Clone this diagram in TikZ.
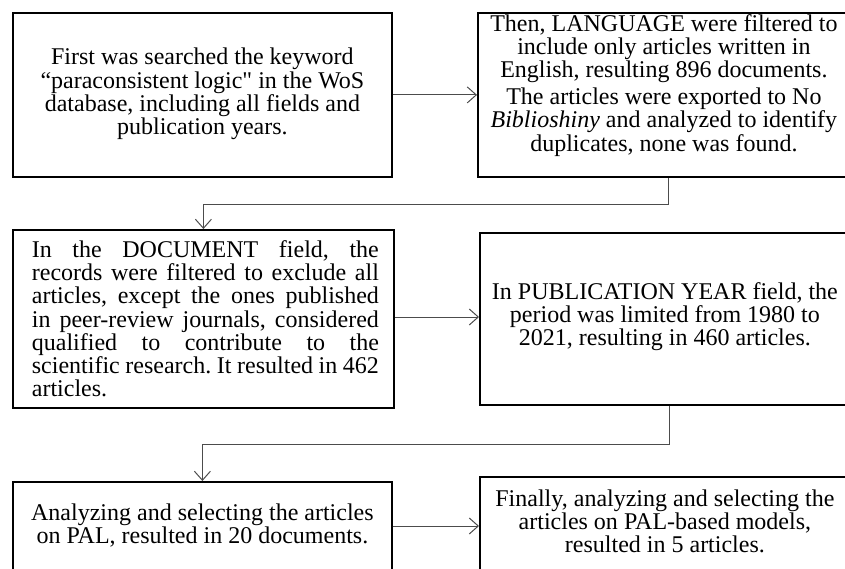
\documentclass[tikz,border=0pt]{standalone}
\usepackage{fontspec}
\setmainfont{Liberation Serif}[Ligatures=TeXOff]
\usetikzlibrary{arrows.meta, positioning}
\frenchspacing

\begin{document}
\begin{tikzpicture}[x=1pt, y=1pt,
  every node/.style={font=\fontsize{24}{23.2}\selectfont, inner sep=0pt},
  stage/.style={draw=black, line width=1.8pt, anchor=north west},
  flow/.style={draw=black!70, line width=1pt, -{Straight Barb[length=9pt, width=16pt, line width=1pt]}}]
  \useasboundingbox (0,0) rectangle (845,-569);
  \node[stage, minimum width=379pt, minimum height=164pt] (search) at (12,-12) {};
  \node[align=center] (search-txt) at ([yshift=1pt]search.center) {First was searched the keyword\\ “paraconsistent logic" in the WoS\\ database, including all fields and\\ publication years.};
  \node[stage, minimum width=372pt, minimum height=164pt] (lang) at (477,-12) {};
  \node[align=center, below=2pt of lang.north] (lang-txt) {Then, LANGUAGE were filtered to\\ include only articles written in\\ English, resulting 896 documents.\\[4pt] The articles were exported to No\\ \textit{Biblioshiny} and analyzed to identify\\ duplicates, none was found.};
  \node[stage, minimum width=381pt, minimum height=178pt] (doctype) at (12,-229) {};
  \node[text width=347pt, align=justify] (doctype-txt) at ([xshift=2pt]doctype.center) {In the DOCUMENT field, the\linebreak records were filtered to exclude all\linebreak articles, except the ones published\linebreak in peer-review journals, considered\linebreak qualified to contribute to the\linebreak scientific research. It resulted in 462\linebreak articles.};
  \node[stage, minimum width=370pt, minimum height=172pt] (year) at (479,-232) {};
  \node[align=center] (year-txt) at ([yshift=2pt]year.center) {In PUBLICATION YEAR field, the\\ period was limited from 1980 to\\ 2021, resulting in 460 articles.};
  \node[stage, minimum width=379pt, minimum height=100pt] (pal) at (12,-481) {};
  \node[align=center] (pal-txt) at ([yshift=6pt]pal.center) {Analyzing and selecting the articles\\ on PAL, resulted in 20 documents.};
  \node[stage, minimum width=370pt, minimum height=105pt] (models) at (479,-476) {};
  \node[align=center] (models-txt) at ([yshift=8pt]models.center) {Finally, analyzing and selecting the\\ articles on PAL-based models,\\ resulted in 5 articles.};
  \draw[flow] (search) -- (lang);
  \draw[flow] ([xshift=5pt]lang.south) -- ++(0,-27) -| (doctype.north);
  \draw[flow] (doctype.east |- 0,-317) -- (year.west |- 0,-317);
  \draw[flow] ([xshift=5pt]year.south) -- ++(0,-39) -| (pal.north);
  \draw[flow] (pal.east |- 0,-526) -- (models.west |- 0,-526);
\end{tikzpicture}
\end{document}
